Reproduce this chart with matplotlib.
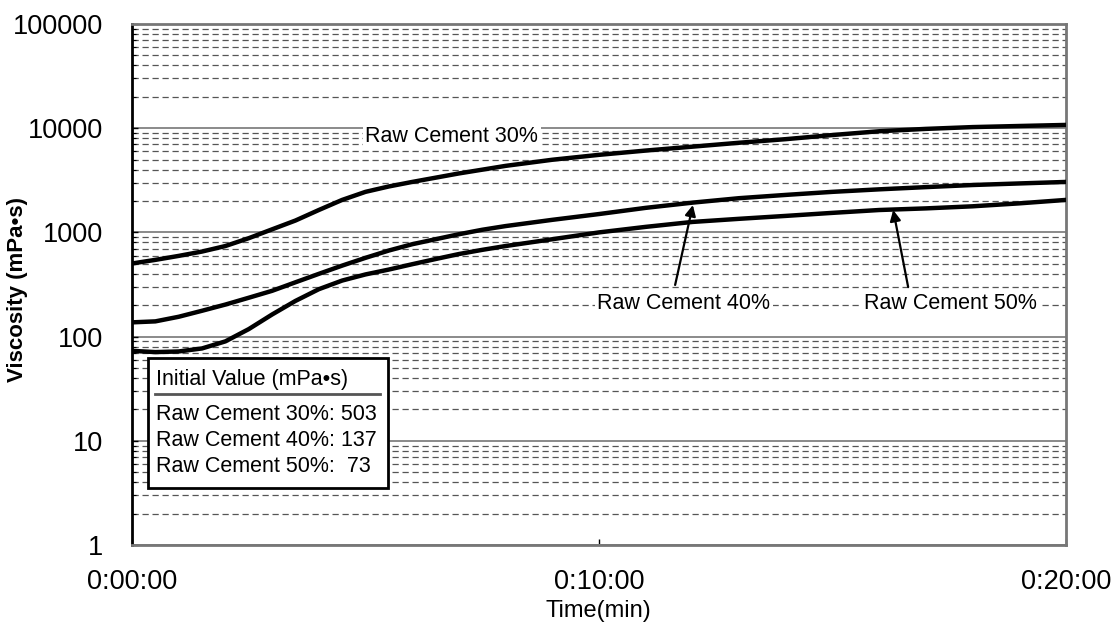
import numpy as np
import matplotlib
matplotlib.use("Agg")
import matplotlib.pyplot as plt
from matplotlib.patches import Rectangle
from matplotlib.ticker import FixedLocator, FuncFormatter, LogLocator

plt.rcParams['font.family'] = ['Liberation Sans', 'DejaVu Sans']

# elapsed time in minutes (half-minute steps while the slurry thickens fast)
minutes = [0, 0.5, 1, 1.5, 2, 2.5, 3, 3.5, 4, 4.5, 5, 5.5, 6, 6.5, 7, 7.5, 8,
           9, 10, 11, 12, 13, 14, 15, 16, 17, 18, 19, 20]

# viscosity readings (mPa*s)
visc_30 = [503, 545, 595, 655, 740, 880, 1070, 1300, 1640, 2050, 2450, 2760,
           3050, 3350, 3680, 4000, 4350,
           4980, 5550, 6100, 6650, 7250, 7850, 8600, 9350, 9850, 10250, 10500, 10750]
visc_40 = [137, 140, 155, 177, 203, 236, 275, 332, 400, 480, 570, 670,
           770, 860, 960, 1060, 1150,
           1320, 1500, 1720, 1930, 2130, 2290, 2450, 2590, 2720, 2850, 2950, 3050]
visc_50 = [73, 71, 72, 77, 90, 118, 163, 220, 285, 345, 395, 440,
           495, 555, 620, 680, 740,
           860, 1000, 1130, 1260, 1350, 1440, 1540, 1640, 1700, 1780, 1900, 2050]

names = ["Raw Cement 30%", "Raw Cement 40%", "Raw Cement 50%"]
series = [visc_30, visc_40, visc_50]

y_ticks = [1, 10, 100, 1000, 10000, 100000]
x_ticks = [0, 10, 20]

fig = plt.figure(figsize=(11.13, 6.23), dpi=100)
ax = fig.add_axes([132 / 1113, 1 - 545 / 623, 934 / 1113, 521 / 623])

for vals in series:
    ax.plot(minutes, vals, color='black', lw=3.2, solid_joinstyle='round', zorder=4)

ax.set_yscale('log')
ax.set_ylim(1, 100000)
ax.set_xlim(0, 20)

ax.yaxis.set_major_locator(FixedLocator(y_ticks))
ax.yaxis.set_major_formatter(FuncFormatter(lambda v, p: f"{int(round(v))}"))
ax.yaxis.set_minor_locator(LogLocator(base=10, subs=np.arange(2, 10)))
ax.yaxis.set_minor_formatter(FuncFormatter(lambda v, p: ""))
ax.xaxis.set_major_locator(FixedLocator(x_ticks))
ax.xaxis.set_major_formatter(FuncFormatter(lambda v, p: f"0:{int(v):02d}:00"))

ax.grid(which='major', axis='y', color='#8a8a8a', lw=1.4)
ax.grid(which='minor', axis='y', color='#555555', lw=0.9, linestyle=(0, (5, 3)))
ax.set_axisbelow(True)

ax.tick_params(axis='y', which='major', direction='in', length=4, width=1,
               labelsize=19.5, pad=21)
ax.tick_params(axis='y', which='minor', direction='in', length=3, width=0.8)
ax.tick_params(axis='x', which='major', direction='in', length=4, width=1,
               labelsize=19.5, pad=17, top=False)

ax.spines['left'].set_color('black')
ax.spines['left'].set_linewidth(2)
for side in ('top', 'right', 'bottom'):
    ax.spines[side].set_color('#777777')
    ax.spines[side].set_linewidth(2)

fig.text(18 / 1113, 1 - 290 / 623, "Viscosity (mPa•s)", rotation=90,
         ha='center', va='center', fontsize=16, fontweight='bold')
fig.text(598 / 1113, 1 - 611 / 623, "Time(min)", ha='center', va='center',
         fontsize=17)

label_box = dict(facecolor='white', edgecolor='none', pad=2)
ax.text(6.85, 8240, names[0], ha='center', va='center', fontsize=15.5,
        bbox=label_box, zorder=3)
ax.text(11.82, 210, names[1], ha='center', va='center', fontsize=15.5,
        bbox=label_box, zorder=3)
ax.text(17.52, 210, names[2], ha='center', va='center', fontsize=15.5,
        bbox=label_box, zorder=3)

arrow = dict(arrowstyle='-|>', color='black', lw=1.6, mutation_scale=16,
             shrinkA=0, shrinkB=0)
ax.annotate("", xy=(12.01, 1830), xytext=(11.63, 313), arrowprops=arrow, zorder=5)
ax.annotate("", xy=(16.30, 1640), xytext=(16.62, 299), arrowprops=arrow, zorder=5)

# initial value box
x0, x1 = (148 - 132) / 934, (388 - 132) / 934
y0, y1 = (545 - 488) / 521, (545 - 358) / 521
ax.add_patch(Rectangle((x0, y0), x1 - x0, y1 - y0, transform=ax.transAxes,
                       facecolor='white', edgecolor='black', lw=2, zorder=6))
tx = (156 - 132) / 934
ax.text(tx, (545 - 379) / 521, "Initial Value (mPa•s)", transform=ax.transAxes,
        ha='left', va='center', fontsize=15.5, zorder=7)
ax.plot([(155 - 132) / 934, (380 - 132) / 934], [(545 - 394) / 521] * 2,
        transform=ax.transAxes, color='#555555', lw=2, zorder=7)
for i, (name, vals) in enumerate(zip(names, series)):
    ax.text(tx, (545 - (415 + 26 * i)) / 521, f"{name}: {vals[0]:>3}",
            transform=ax.transAxes, ha='left', va='center', fontsize=15.5, zorder=7)

fig.savefig("out.png", dpi=100)
